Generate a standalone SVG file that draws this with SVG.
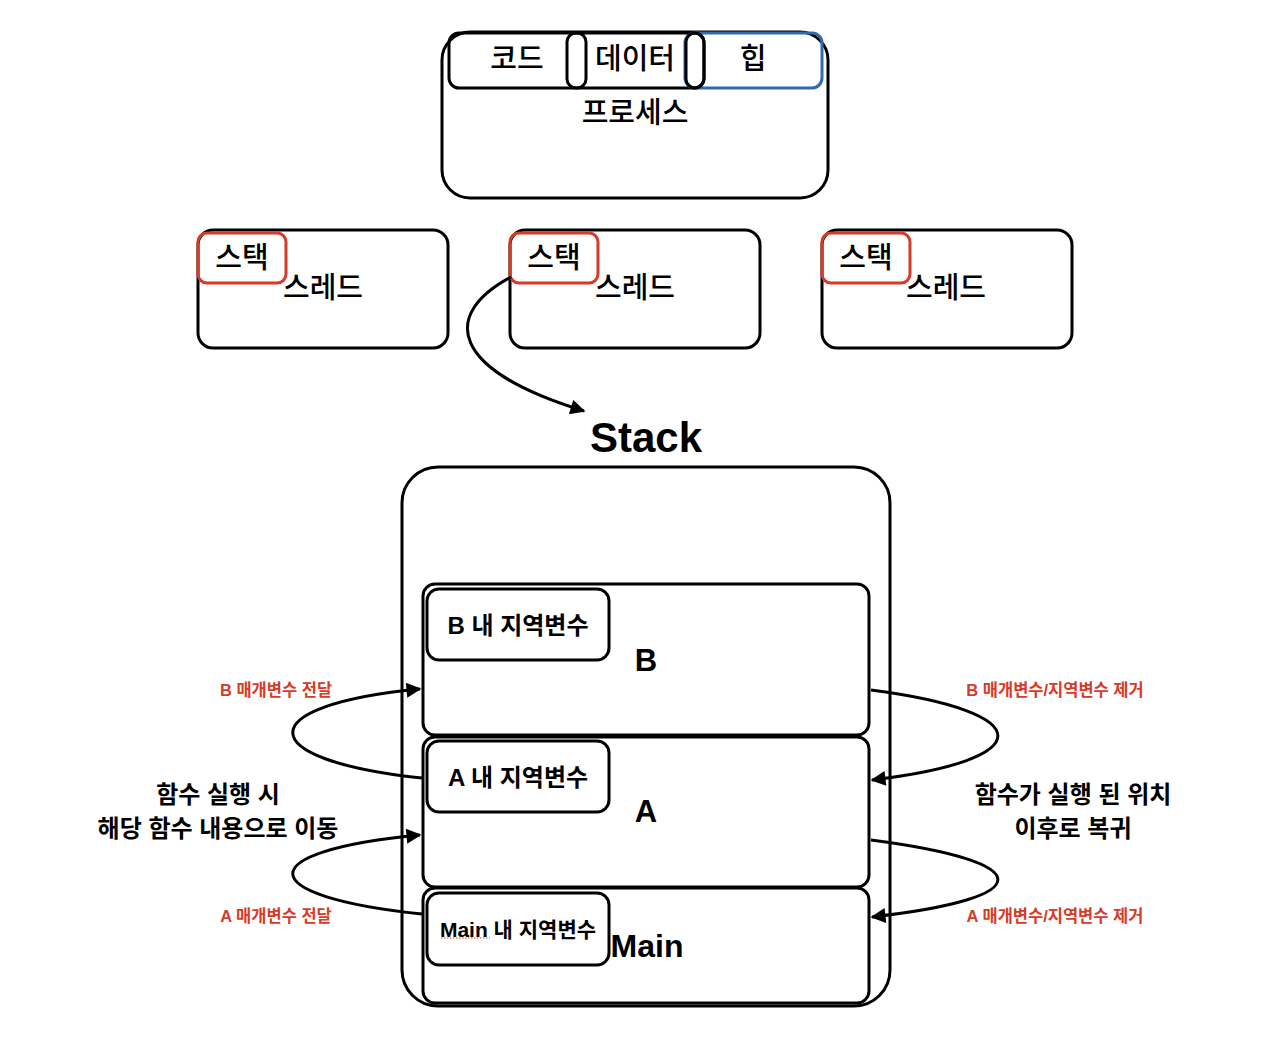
<svg xmlns="http://www.w3.org/2000/svg" width="1262" height="1042" viewBox="0 0 1262 1042">
<style>
.bx{fill:none;stroke:#000;stroke-width:3}
.red{fill:none;stroke:#D63B27;stroke-width:3}
.blue{fill:none;stroke:#2F6BB0;stroke-width:3}
.kr{font-family:"Liberation Sans","Noto Sans CJK KR",sans-serif;fill:#000;text-anchor:middle;dominant-baseline:central}
.t26{font-size:29px;font-weight:500}
.b22{font-size:24px;font-weight:bold}
.lbl{font-size:16.5px;font-weight:bold;fill:#D63B27}
.big{font-family:"Liberation Sans","Noto Sans CJK KR",sans-serif;font-weight:bold;text-anchor:middle;fill:#000}
.conn{fill:none;stroke:#000;stroke-width:3}
</style>
<defs>
<marker id="ah" viewBox="0 0 10 10" refX="9" refY="5" markerWidth="5.5" markerHeight="5" orient="auto" markerUnits="strokeWidth">
<path d="M0,0 L10,5 L0,10 z" fill="#000"/>
</marker>
</defs>
<rect width="1262" height="1042" fill="#fff"/>

<g id="process">
<rect class="bx" x="442" y="32" width="386" height="166" rx="28"/>
<rect class="bx" x="449" y="33" width="255" height="55" rx="10"/>
<rect class="bx" x="567" y="33" width="19" height="55" rx="9"/>
<rect class="blue" x="685" y="33" width="137" height="55" rx="10"/>
<rect class="bx" x="686" y="33" width="18" height="55" rx="9"/>
<text class="kr t26" x="517" y="59">코드</text>
<text class="kr t26" x="635" y="59">데이터</text>
<text class="kr t26" x="753" y="59">힙</text>
<text class="kr t26" x="635" y="113">프로세스</text>
</g>

<g id="thread1">
<rect class="bx" x="198" y="230" width="250" height="118" rx="15"/>
<rect class="red" x="198" y="233" width="88" height="50" rx="9"/>
<text class="kr t26" x="242" y="258">스택</text>
<text class="kr t26" x="323" y="288">스레드</text>
</g>
<g id="thread2">
<rect class="bx" x="510" y="230" width="250" height="118" rx="15"/>
<rect class="red" x="510" y="233" width="88" height="50" rx="9"/>
<text class="kr t26" x="554" y="258">스택</text>
<text class="kr t26" x="635" y="288">스레드</text>
</g>
<g id="thread3">
<rect class="bx" x="822" y="230" width="250" height="118" rx="15"/>
<rect class="red" x="822" y="233" width="88" height="50" rx="9"/>
<text class="kr t26" x="866" y="258">스택</text>
<text class="kr t26" x="946" y="288">스레드</text>
</g>

<g id="stack">
<text class="big" x="646" y="452" font-size="42">Stack</text>
<rect class="bx" x="402" y="467" width="488" height="539" rx="36"/>
</g>

<g id="frameB">
<rect class="bx" x="423" y="584" width="446" height="151" rx="12"/>
<rect class="bx" x="427" y="589" width="182" height="71" rx="12"/>
<text class="kr b22" x="518" y="625">B 내 지역변수</text>
<text class="big" x="646" y="671" font-size="31">B</text>
</g>
<g id="frameA">
<rect class="bx" x="423" y="737" width="446" height="150" rx="12"/>
<rect class="bx" x="427" y="741" width="182" height="71" rx="12"/>
<text class="kr b22" x="518" y="777">A 내 지역변수</text>
<text class="big" x="646" y="822" font-size="31">A</text>
</g>
<g id="frameMain">
<rect class="bx" x="423" y="888" width="446" height="115" rx="12"/>
<rect class="bx" x="427" y="893" width="182" height="72" rx="12"/>
<text class="kr" x="518" y="929" font-size="21" font-weight="bold">Main 내 지역변수</text>
<line x1="441" y1="938" x2="490" y2="938" stroke="#D63B27" stroke-width="1" stroke-dasharray="1.5,1.5"/>
<text class="big" x="647" y="957" font-size="32">Main</text>
</g>

<g id="connectors">
<path class="conn" d="M511,277 C440,315 450,370 584,411" marker-end="url(#ah)"/>
<path class="conn" d="M422,778 C250,760 250,705 420,689" marker-end="url(#ah)"/>
<path class="conn" d="M422,914 C250,896 250,851 420,835" marker-end="url(#ah)"/>
<path class="conn" d="M871,690 C1040,712 1040,760 872,780" marker-end="url(#ah)"/>
<path class="conn" d="M871,840 C1040,862 1040,898 872,917" marker-end="url(#ah)"/>
</g>

<g id="labels">
<text class="kr lbl" x="276" y="690">B 매개변수 전달</text>
<text class="kr lbl" x="276" y="916">A 매개변수 전달</text>
<text class="kr lbl" x="1055" y="690">B 매개변수/지역변수 제거</text>
<text class="kr lbl" x="1055" y="916">A 매개변수/지역변수 제거</text>
<text class="kr" x="218" y="794" font-size="24" font-weight="bold">함수 실행 시</text>
<text class="kr" x="218" y="828" font-size="24" font-weight="bold">해당 함수 내용으로 이동</text>
<text class="kr" x="1073" y="794" font-size="24" font-weight="bold">함수가 실행 된 위치</text>
<text class="kr" x="1073" y="828" font-size="24" font-weight="bold">이후로 복귀</text>
</g>
</svg>
